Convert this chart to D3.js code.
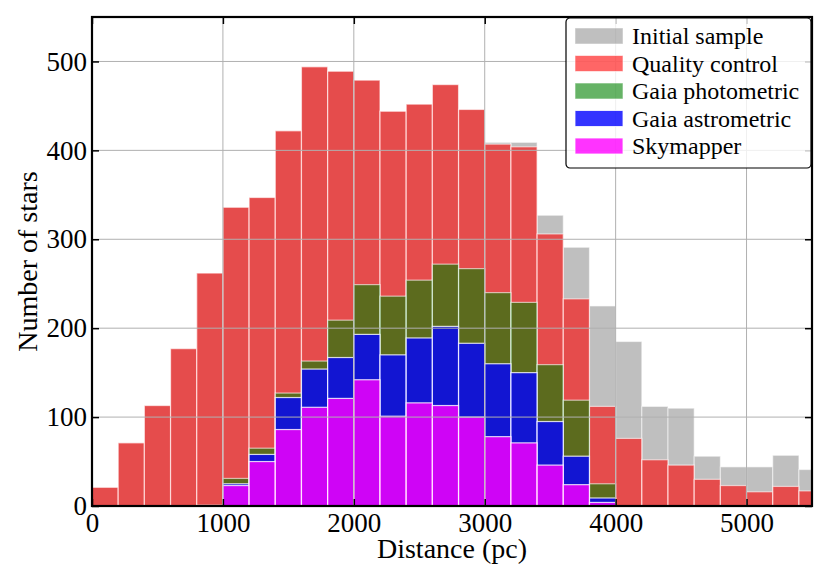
<!DOCTYPE html>
<html>
<head>
<meta charset="utf-8">
<script src="https://cdn.jsdelivr.net/npm/d3@7"></script>
<style>
  body { margin: 0; background: #fff; }
  text { font-family: "Liberation Serif", "DejaVu Serif", serif; fill: #000; }
</style>
</head>
<body>
<script>
// Histogram bins: 200 pc wide, starting at 0
const binStart = [0, 200, 400, 600, 800, 1000, 1200, 1400, 1600, 1800, 2000, 2200, 2400, 2600,
                  2800, 3000, 3200, 3400, 3600, 3800, 4000, 4200, 4400, 4600, 4800, 5000, 5200, 5400];
const binWidth = 200;

// counts per bin
const initialSample = [21, 71, 113, 177, 262, 336, 347, 422, 494, 489, 479, 444, 452, 474,
                       446, 409, 409, 327, 291, 225, 185, 112, 110, 56, 44, 44, 57, 41];
const qualityControl = [21, 71, 113, 177, 262, 336, 347, 422, 494, 489, 479, 444, 452, 474,
                        446, 407, 404, 306, 233, 112, 76, 52, 46, 30, 23, 16, 22, 17];
const gaiaPhotometric = [0, 0, 0, 0, 1, 31, 65, 127, 163, 209, 249, 236, 254, 272,
                         267, 240, 229, 159, 119, 25, 0, 0, 0, 0, 0, 0, 0, 0];
const gaiaAstrometric = [0, 0, 0, 0, 0, 25, 58, 122, 154, 167, 193, 170, 189, 202,
                         183, 160, 150, 95, 56, 9, 0, 0, 0, 0, 0, 0, 0, 0];
const skymapper = [0, 0, 0, 0, 0, 23, 50, 86, 111, 121, 142, 101, 116, 113,
                   100, 78, 71, 46, 24, 4, 0, 0, 0, 0, 0, 0, 0, 0];

const xTicks = [0, 1000, 2000, 3000, 4000, 5000];
const yTicks = [0, 100, 200, 300, 400, 500];

const seriesNames = ["Initial sample", "Quality control", "Gaia photometric", "Gaia astrometric", "Skymapper"];
const seriesValues = [initialSample, qualityControl, gaiaPhotometric, gaiaAstrometric, skymapper];
const seriesColors = ["#808080", "#ff0000", "#008000", "#0000ff", "#ff00ff"];
const seriesAlpha = [0.5, 0.6, 0.6, 0.8, 0.8];

const width = 830, height = 581;
const margin = {top: 17, right: 18, bottom: 75, left: 92};

const svg = d3.select("body").append("svg")
    .attr("width", width)
    .attr("height", height);

const x = d3.scaleLinear().domain([0, 5500]).range([margin.left, width - margin.right]);
const y = d3.scaleLinear().domain([0, 550]).range([height - margin.bottom, margin.top]);

svg.append("clipPath").attr("id", "plot-clip")
  .append("rect")
    .attr("x", x(0)).attr("y", y(550))
    .attr("width", x(5500) - x(0)).attr("height", y(0) - y(550));

const plot = svg.append("g").attr("clip-path", "url(#plot-clip)");

// overlapping histograms, drawn in order with transparency
seriesValues.forEach((vals, si) => {
    const bins = binStart.map((b, i) => ({x0: b, x1: b + binWidth, v: vals[i]}))
        .filter(d => d.v > 0);
    plot.append("g")
      .selectAll("rect")
      .data(bins)
      .join("rect")
        .attr("x", d => x(d.x0))
        .attr("y", d => y(d.v))
        .attr("width", d => x(d.x1) - x(d.x0))
        .attr("height", d => y(0) - y(d.v))
        .attr("fill", seriesColors[si])
        .attr("fill-opacity", seriesAlpha[si])
        .attr("stroke", "#fff")
        .attr("stroke-opacity", seriesAlpha[si])
        .attr("stroke-width", 1.2);
});

// grid on top of bars
const grid = svg.append("g").attr("stroke", "#b0b0b0").attr("stroke-width", 1);
grid.selectAll(".gx").data(xTicks.slice(1)).join("line")
    .attr("x1", d => x(d)).attr("x2", d => x(d))
    .attr("y1", y(0)).attr("y2", y(550));
grid.selectAll(".gy").data(yTicks.slice(1)).join("line")
    .attr("x1", x(0)).attr("x2", x(5500))
    .attr("y1", d => y(d)).attr("y2", d => y(d));

// axes with inward ticks on all sides
const tickLen = 7;
const fmt = d3.format("d");
function styleAxis(g) {
    g.select(".domain").remove();
    g.selectAll(".tick line").attr("stroke", "#000").attr("stroke-width", 1.5);
    g.selectAll(".tick text").attr("font-size", 27);
}

svg.append("g")
    .attr("transform", `translate(0,${y(0)})`)
    .call(d3.axisBottom(x).tickValues(xTicks).tickFormat(fmt).tickSizeInner(-tickLen).tickPadding(7))
    .call(styleAxis);
svg.append("g")
    .attr("transform", `translate(0,${y(550)})`)
    .call(d3.axisTop(x).tickValues(xTicks).tickFormat("").tickSizeInner(-tickLen))
    .call(styleAxis);
svg.append("g")
    .attr("transform", `translate(${x(0)},0)`)
    .call(d3.axisLeft(y).tickValues(yTicks).tickFormat(fmt).tickSizeInner(-tickLen).tickPadding(5))
    .call(styleAxis);
svg.append("g")
    .attr("transform", `translate(${x(5500)},0)`)
    .call(d3.axisRight(y).tickValues(yTicks).tickFormat("").tickSizeInner(-tickLen))
    .call(styleAxis);

// frame
svg.append("rect")
    .attr("x", x(0)).attr("y", y(550))
    .attr("width", x(5500) - x(0)).attr("height", y(0) - y(550))
    .attr("fill", "none").attr("stroke", "#000").attr("stroke-width", 2.2);

// axis labels
svg.append("text")
    .attr("x", (x(0) + x(5500)) / 2).attr("y", 558)
    .attr("text-anchor", "middle").attr("font-size", 28)
    .text("Distance (pc)");
svg.append("text")
    .attr("transform", `translate(37,${(y(0) + y(550)) / 2}) rotate(-90)`)
    .attr("text-anchor", "middle").attr("font-size", 28)
    .text("Number of stars");

// legend
const lg = svg.append("g").attr("transform", "translate(566,18)");
lg.append("rect")
    .attr("width", 245).attr("height", 150).attr("rx", 4)
    .attr("fill", "#fff").attr("fill-opacity", 0.8)
    .attr("stroke", "#000").attr("stroke-width", 1.2);
seriesNames.forEach((name, i) => {
    const row = lg.append("g").attr("transform", `translate(0,${18 + i * 27.5})`);
    row.append("rect")
        .attr("x", 9).attr("y", -8).attr("width", 48).attr("height", 16)
        .attr("fill", seriesColors[i]).attr("fill-opacity", seriesAlpha[i])
        .attr("stroke", "#fff").attr("stroke-opacity", seriesAlpha[i]);
    row.append("text")
        .attr("x", 66).attr("y", 8)
        .attr("font-size", 24)
        .text(name);
});
</script>
</body>
</html>
